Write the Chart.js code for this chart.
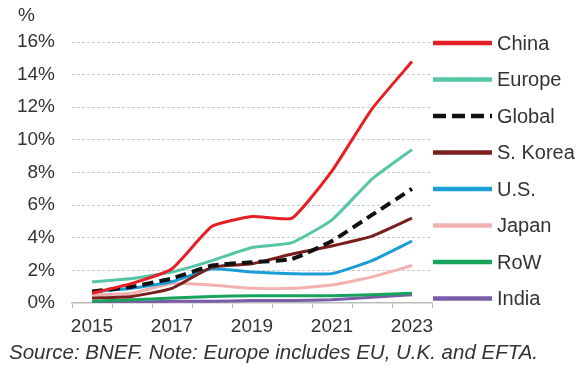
<!DOCTYPE html>
<html>
<head>
<meta charset="utf-8">
<script src="https://cdn.jsdelivr.net/npm/chart.js@4/dist/chart.umd.min.js"></script>
<style>
  html, body { margin: 0; padding: 0; background: #fff; }
  #wrap { width: 580px; height: 370px; position: relative; }
</style>
</head>
<body>
<div id="wrap"><canvas id="my-chart" width="580" height="370"></canvas></div>
<script>
const years = ['2015', '2016', '2017', '2018', '2019', '2020', '2021', '2022', '2023'];

const china  = [0.6, 1.2, 2.1, 4.7, 5.3, 5.2, 8.1, 11.9, 14.8];
const europe = [1.3, 1.5, 1.9, 2.6, 3.4, 3.7, 5.1, 7.6, 9.4];
const global = [0.7, 1.0, 1.5, 2.3, 2.5, 2.7, 3.8, 5.4, 7.0];
const korea  = [0.3, 0.4, 0.9, 2.2, 2.4, 3.0, 3.5, 4.1, 5.2];
const us     = [0.7, 0.9, 1.3, 2.1, 1.9, 1.8, 1.8, 2.6, 3.8];
const japan  = [0.5, 0.6, 1.2, 1.1, 0.9, 0.9, 1.1, 1.6, 2.3];
const row    = [0.1, 0.2, 0.3, 0.4, 0.45, 0.45, 0.45, 0.5, 0.6];
const india  = [0.05, 0.05, 0.1, 0.1, 0.15, 0.15, 0.2, 0.35, 0.5];

const seriesNames = ['China', 'Europe', 'Global', 'S. Korea', 'U.S.', 'Japan', 'RoW', 'India'];
const seriesColors = ['#e61f26', '#55c6a6', '#111111', '#7b1e1e', '#1b9ed6', '#f2b1b1', '#17a35c', '#7a5ca8'];

const FONT = "'Liberation Sans', Arial, sans-serif";
const TEXT = '#333333';

function line(i, data, extra) {
    return Object.assign({
        label: seriesNames[i],
        data: data,
        borderColor: seriesColors[i],
        backgroundColor: seriesColors[i],
        borderWidth: 3,
        pointRadius: 0,
        tension: 0.15,
        fill: false,
    }, extra || {});
}

// legend + "%" + source note drawn on the canvas
const extras = {
    id: 'extras',
    afterDraw(chart) {
        const ctx = chart.ctx;
        ctx.save();
        ctx.fillStyle = TEXT;
        ctx.textBaseline = 'middle';
        ctx.font = '19px ' + FONT;
        ctx.textAlign = 'left';
        ctx.fillText('%', 18, 16);

        chart.data.datasets.forEach((ds, i) => {
            const y = 43 + i * 36.5;
            ctx.beginPath();
            ctx.strokeStyle = ds.borderColor;
            ctx.lineWidth = 4.5;
            ctx.setLineDash(ds.borderDash ? [13, 6] : []);
            ctx.moveTo(433, y);
            ctx.lineTo(492, y);
            ctx.stroke();
            ctx.setLineDash([]);
            ctx.fillStyle = TEXT;
            ctx.font = '20px ' + FONT;
            ctx.fillText(ds.label, 497, y + 1);
        });

        ctx.font = 'italic 20.5px ' + FONT;
        ctx.fillStyle = TEXT;
        ctx.fillText('Source: BNEF. Note: Europe includes EU, U.K. and EFTA.', 9, 353);
        ctx.restore();
    }
};

const ctx = document.getElementById('my-chart').getContext('2d');

let myChart = new Chart(ctx, {
    type: 'line',
    data: {
        labels: years,
        datasets: [
            line(0, china),
            line(1, europe),
            line(2, global, { borderDash: [11, 6], borderWidth: 4 }),
            line(3, korea),
            line(4, us),
            line(5, japan),
            line(6, row),
            line(7, india),
        ],
    },
    options: {
        responsive: false,
        animation: false,
        layout: {
            padding: { top: 42, right: 148, bottom: 0, left: 0 },
        },
        plugins: {
            legend: { display: false },
            tooltip: { enabled: false },
        },
        scales: {
            x: {
                offset: true,
                grid: {
                    offset: true,
                    drawOnChartArea: false,
                    drawTicks: true,
                    tickLength: 5,
                    color: '#bbbbbb',
                },
                border: { color: '#bbbbbb', width: 1.5 },
                ticks: {
                    autoSkip: false,
                    maxRotation: 0,
                    padding: 7,
                    color: TEXT,
                    font: { family: FONT, size: 19 },
                    callback: function (value, index) {
                        return index % 2 === 0 ? this.getLabelForValue(value) : '';
                    },
                },
                afterFit(scale) { scale.height = 67; },
            },
            y: {
                min: 0,
                max: 16,
                ticks: {
                    stepSize: 2,
                    padding: 17,
                    color: TEXT,
                    font: { family: FONT, size: 19 },
                    callback: (v) => v + '%',
                },
                grid: {
                    drawTicks: false,
                    color: (c) => c.tick.value === 0 ? 'rgba(0,0,0,0)' : '#cccccc',
                    lineWidth: 1,
                },
                border: { display: false, dash: [3, 2] },
                afterFit(scale) { scale.width = 72; },
            },
        },
    },
    plugins: [extras],
});
</script>
</body>
</html>
